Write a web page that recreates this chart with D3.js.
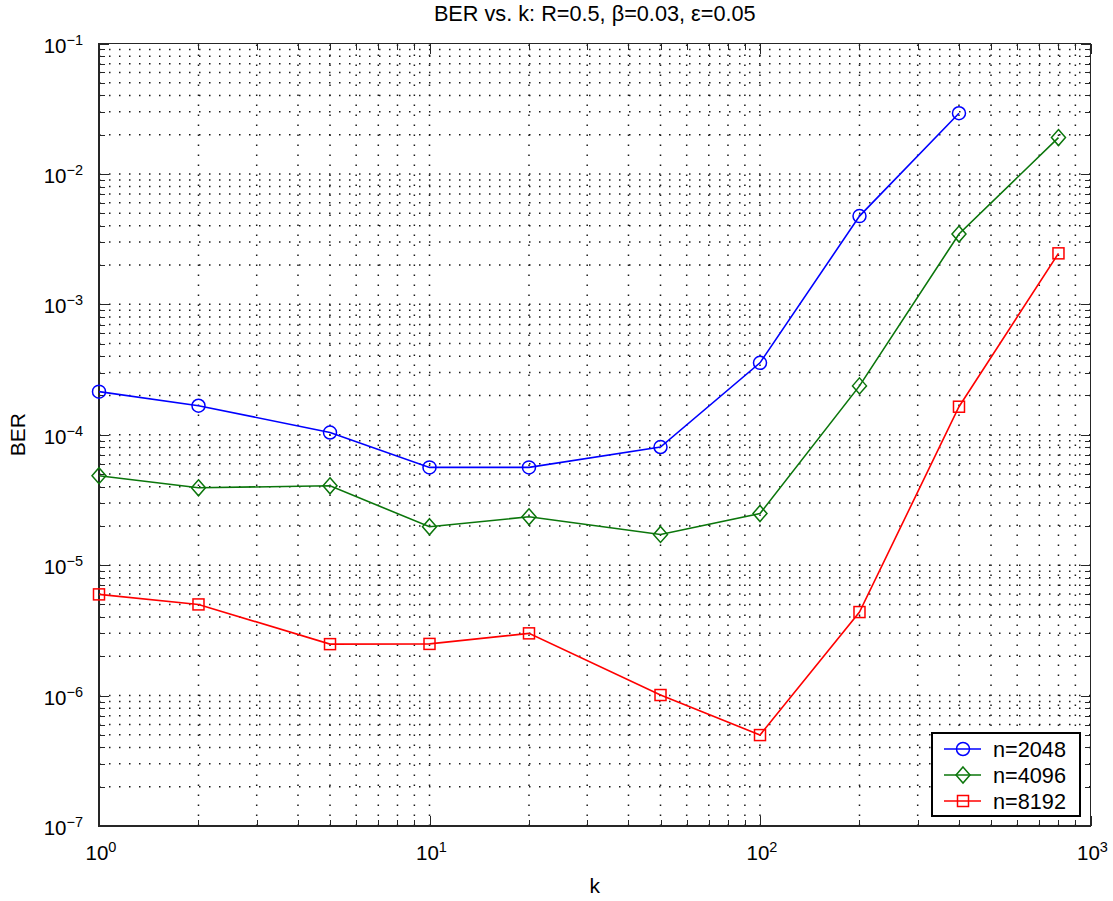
<!DOCTYPE html>
<html>
<head>
<meta charset="utf-8">
<script src="https://cdn.jsdelivr.net/npm/d3@7"></script>
<style>
  body { margin: 0; background: #fff; }
  svg { font-family: "Liberation Sans", Arial, Helvetica, sans-serif; }
</style>
</head>
<body>
<div id="chart"></div>
<script>
// data
var kValues = [1, 2, 5, 10, 20, 50, 100, 200, 400, 800];
var ber2048 = [2.14e-4, 1.67e-4, 1.04e-4, 5.62e-5, 5.62e-5, 8.05e-5, 3.56e-4, 4.75e-3, 2.92e-2];
var ber4096 = [4.85e-5, 3.92e-5, 4.06e-5, 1.97e-5, 2.35e-5, 1.72e-5, 2.49e-5, 2.37e-4, 3.46e-3, 1.90e-2];
var ber8192 = [5.97e-6, 5.0e-6, 2.48e-6, 2.49e-6, 3.0e-6, 1.01e-6, 4.98e-7, 4.37e-6, 1.64e-4, 2.46e-3];
var seriesNames = ["n=2048", "n=4096", "n=8192"];
var xTickExp = [0, 1, 2, 3];
var yTickExp = [-7, -6, -5, -4, -3, -2, -1];

var series = [
    {name: seriesNames[0], values: ber2048, color: "#0000ff", marker: "circle"},
    {name: seriesNames[1], values: ber4096, color: "#0b760b", marker: "diamond"},
    {name: seriesNames[2], values: ber8192, color: "#ff0000", marker: "square"}
];

var W = 1113, H = 901;
var margin = {top: 43.5, right: 22.5, bottom: 75, left: 99};
var width = W - margin.left - margin.right,
    height = H - margin.top - margin.bottom;

var svg = d3.select("#chart").append("svg")
    .attr("width", W)
    .attr("height", H);

var g = svg.append("g")
    .attr("transform", "translate(" + margin.left + "," + margin.top + ")");

var x = d3.scaleLog().domain([1, 1000]).range([0, width]);
var y = d3.scaleLog().domain([1e-7, 1e-1]).range([height, 0]);

// major + minor tick values
var xMajor = xTickExp.map(function(e) { return Math.pow(10, e); });
var yMajor = yTickExp.map(function(e) { return Math.pow(10, e); });
var xMinor = [], yMinor = [];
xMajor.slice(0, -1).forEach(function(d) {
    for (var m = 2; m <= 9; m++) xMinor.push(d * m);
});
yMajor.slice(0, -1).forEach(function(d) {
    for (var m = 2; m <= 9; m++) yMinor.push(d * m);
});
var xAll = xMajor.concat(xMinor), yAll = yMajor.concat(yMinor);

// dotted grid
var grid = g.append("g").attr("class", "grid")
    .attr("stroke", "#1a1a1a")
    .attr("stroke-width", 1.5)
    .attr("stroke-dasharray", "1.5,8.5");

grid.selectAll(".vgrid")
    .data(xAll.filter(function(d) { return d > 1 && d < 1000; }))
    .enter().append("line")
    .attr("x1", function(d) { return x(d); })
    .attr("x2", function(d) { return x(d); })
    .attr("y1", height)
    .attr("y2", 0);

grid.selectAll(".hgrid")
    .data(yAll.filter(function(d) { return d > 1.01e-7 && d < 0.099; }))
    .enter().append("line")
    .attr("x1", 0)
    .attr("x2", width)
    .attr("y1", function(d) { return y(d); })
    .attr("y2", function(d) { return y(d); });

// axes: ticks point inward on all four sides
function styleAxis(sel) {
    sel.select(".domain").remove();
    sel.selectAll("line").attr("stroke", "#262626").attr("shape-rendering", "crispEdges");
}

g.append("g").attr("transform", "translate(0," + height + ")")
    .call(d3.axisBottom(x).tickValues(xMajor).tickSizeInner(-10).tickSizeOuter(0).tickFormat(""))
    .call(styleAxis);
g.append("g").attr("transform", "translate(0," + height + ")")
    .call(d3.axisBottom(x).tickValues(xMinor).tickSizeInner(-6).tickSizeOuter(0).tickFormat(""))
    .call(styleAxis);
g.append("g")
    .call(d3.axisTop(x).tickValues(xMajor).tickSizeInner(-10).tickSizeOuter(0).tickFormat(""))
    .call(styleAxis);
g.append("g")
    .call(d3.axisTop(x).tickValues(xMinor).tickSizeInner(-6).tickSizeOuter(0).tickFormat(""))
    .call(styleAxis);
g.append("g")
    .call(d3.axisLeft(y).tickValues(yMajor).tickSizeInner(-10).tickSizeOuter(0).tickFormat(""))
    .call(styleAxis);
g.append("g")
    .call(d3.axisLeft(y).tickValues(yMinor).tickSizeInner(-6).tickSizeOuter(0).tickFormat(""))
    .call(styleAxis);
g.append("g").attr("transform", "translate(" + width + ",0)")
    .call(d3.axisRight(y).tickValues(yMajor).tickSizeInner(-10).tickSizeOuter(0).tickFormat(""))
    .call(styleAxis);
g.append("g").attr("transform", "translate(" + width + ",0)")
    .call(d3.axisRight(y).tickValues(yMinor).tickSizeInner(-6).tickSizeOuter(0).tickFormat(""))
    .call(styleAxis);

// box
g.append("rect")
    .attr("x", 0).attr("y", 0)
    .attr("width", width).attr("height", height)
    .attr("fill", "none")
    .attr("stroke", "#262626")
    .attr("stroke-width", 1.2)
    .attr("shape-rendering", "crispEdges");

// tick labels as 10^n
function powerLabel(sel, e) {
    sel.append("tspan").text("10");
    sel.append("tspan")
        .attr("font-size", "14.5px")
        .attr("dy", "-0.55em")
        .text(e < 0 ? "\u2212" + (-e) : String(e));
}

g.selectAll(".xlab")
    .data(xTickExp)
    .enter().append("text")
    .attr("class", "xlab")
    .attr("x", function(d) { return x(Math.pow(10, d)) + 2; })
    .attr("y", height + 34)
    .attr("text-anchor", "middle")
    .attr("font-size", "20.5px")
    .attr("fill", "#000")
    .each(function(d) { powerLabel(d3.select(this), d); });

g.selectAll(".ylab")
    .data(yTickExp)
    .enter().append("text")
    .attr("class", "ylab")
    .attr("x", -16)
    .attr("y", function(d) { return y(Math.pow(10, d)) + 9; })
    .attr("text-anchor", "end")
    .attr("font-size", "20.5px")
    .attr("fill", "#000")
    .each(function(d) { powerLabel(d3.select(this), d); });

// titles
svg.append("text")
    .attr("x", margin.left + width / 2)
    .attr("y", 21)
    .attr("text-anchor", "middle")
    .attr("font-size", "21.7px")
    .text("BER vs. k: R=0.5, \u03b2=0.03, \u03b5=0.05");

svg.append("text")
    .attr("x", margin.left + width / 2)
    .attr("y", 893)
    .attr("text-anchor", "middle")
    .attr("font-size", "21px")
    .text("k");

svg.append("text")
    .attr("transform", "translate(25," + (margin.top + height / 2) + ") rotate(-90)")
    .attr("text-anchor", "middle")
    .attr("font-size", "21px")
    .text("BER");

// markers
function drawMarker(sel, type, color) {
    if (type === "circle") {
        sel.append("circle").attr("r", 6.5);
    } else if (type === "diamond") {
        sel.append("path").attr("d", "M0,-8L7,0L0,8L-7,0Z");
    } else {
        sel.append("rect").attr("x", -5.5).attr("y", -5.5).attr("width", 11).attr("height", 11);
    }
    sel.selectAll("*").attr("fill", "none").attr("stroke", color).attr("stroke-width", 1.5);
}

var line = d3.line()
    .x(function(d) { return x(d[0]); })
    .y(function(d) { return y(d[1]); });

series.forEach(function(s) {
    var pts = s.values.map(function(v, i) { return [kValues[i], v]; });
    g.append("path")
        .datum(pts)
        .attr("d", line)
        .attr("fill", "none")
        .attr("stroke", s.color)
        .attr("stroke-width", 1.6);
    g.selectAll(".pt-" + s.marker)
        .data(pts)
        .enter().append("g")
        .attr("class", "pt-" + s.marker)
        .attr("transform", function(d) { return "translate(" + x(d[0]) + "," + y(d[1]) + ")"; })
        .each(function() { drawMarker(d3.select(this), s.marker, s.color); });
});

// legend
var legend = svg.append("g").attr("transform", "translate(932,733)");
legend.append("rect")
    .attr("width", 148).attr("height", 83)
    .attr("fill", "#fff")
    .attr("stroke", "#000")
    .attr("stroke-width", 1.2)
    .attr("shape-rendering", "crispEdges");

var items = legend.selectAll(".item")
    .data(series)
    .enter().append("g")
    .attr("class", "item")
    .attr("transform", function(d, i) { return "translate(0," + (16 + i * 26) + ")"; });

items.append("line")
    .attr("x1", 12).attr("x2", 49)
    .attr("stroke", function(d) { return d.color; })
    .attr("stroke-width", 1.6);
items.append("g")
    .attr("transform", "translate(31,0)")
    .each(function(d) { drawMarker(d3.select(this), d.marker, d.color); });
items.append("text")
    .attr("x", 61)
    .attr("y", 7.5)
    .attr("font-size", "21.7px")
    .text(function(d) { return d.name; });
</script>
</body>
</html>
